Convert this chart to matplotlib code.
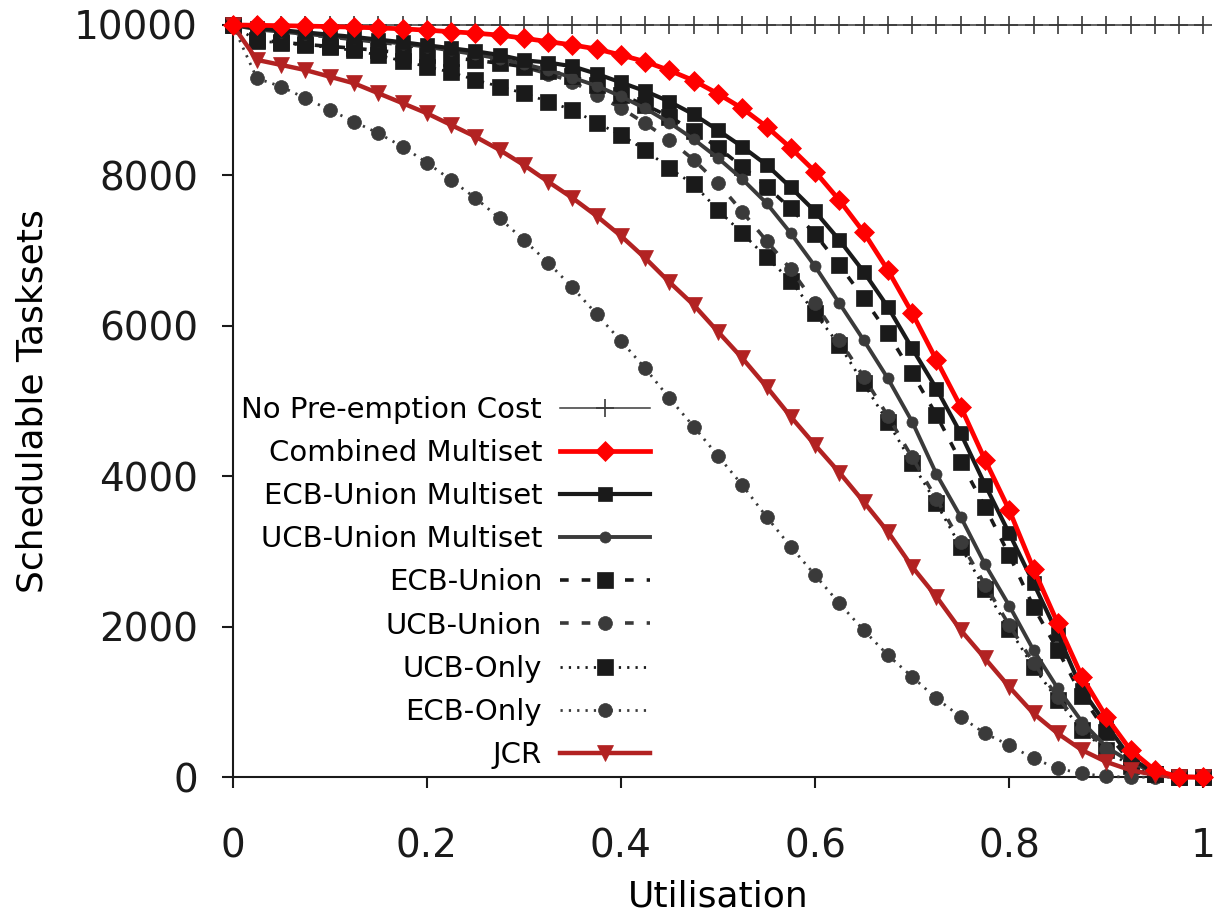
"""Schedulable tasksets vs utilisation, gnuplot-like look."""

import matplotlib
matplotlib.use("Agg")
import matplotlib.pyplot as plt
import numpy as np
from matplotlib.ticker import FormatStrFormatter

BLACK = "#1a1a1a"
GREY = "#3a3a3a"
RED = "#ff0000"
DARK_RED = "#b22222"

utilisation = np.linspace(0, 1, 41)

no_preemption = [10000] * 41
combined_multiset = [10000, 9995, 9990, 9985, 9978, 9970, 9960, 9948, 9930, 9910,
                     9890, 9865, 9823, 9778, 9734, 9680, 9600, 9512, 9395, 9260,
                     9085, 8890, 8648, 8364, 8050, 7670, 7245, 6740, 6170, 5545,
                     4925, 4220, 3550, 2770, 2045, 1335, 800, 360, 93, 5, 0]
ecb_union_multiset = [10000, 9960, 9930, 9900, 9870, 9840, 9805, 9770, 9730, 9690,
                      9650, 9600, 9530, 9500, 9450, 9350, 9235, 9120, 8980, 8810,
                      8600, 8380, 8140, 7840, 7520, 7140, 6720, 6250, 5700, 5165,
                      4570, 3890, 3240, 2580, 1900, 1160, 700, 250, 60, 5, 0]
ucb_union_multiset = [10000, 9940, 9910, 9880, 9850, 9820, 9790, 9750, 9710, 9660,
                      9610, 9550, 9480, 9400, 9300, 9190, 9050, 8890, 8700, 8480,
                      8230, 7950, 7630, 7230, 6790, 6300, 5811, 5300, 4725, 4030,
                      3461, 2830, 2280, 1689, 1180, 735, 403, 200, 60, 5, 0]
ecb_union = [10000, 9800, 9770, 9740, 9715, 9690, 9660, 9628, 9600, 9565,
             9530, 9490, 9445, 9390, 9320, 9202, 9069, 8936, 8780, 8590,
             8370, 8115, 7850, 7560, 7220, 6810, 6370, 5900, 5370, 4814,
             4193, 3594, 2952, 2265, 1689, 1080, 600, 200, 40, 0, 0]
ucb_union = [10000, 9930, 9900, 9870, 9840, 9805, 9770, 9735, 9690, 9640,
             9585, 9520, 9440, 9350, 9246, 9069, 8896, 8690, 8470, 8205,
             7895, 7517, 7130, 6750, 6300, 5811, 5323, 4800, 4250, 3700,
             3120, 2560, 2020, 1520, 1060, 660, 380, 160, 45, 0, 0]
ucb_only = [10000, 9790, 9760, 9730, 9700, 9660, 9600, 9520, 9446, 9370,
            9270, 9180, 9092, 8980, 8870, 8700, 8537, 8338, 8094, 7880,
            7540, 7230, 6910, 6600, 6165, 5745, 5235, 4720, 4175, 3640,
            3062, 2500, 1970, 1467, 1024, 625, 359, 150, 40, 0, 0]
ecb_only = [10000, 9290, 9180, 9025, 8870, 8714, 8560, 8382, 8170, 7939,
            7700, 7430, 7141, 6840, 6510, 6155, 5800, 5435, 5036, 4660,
            4270, 3883, 3461, 3062, 2686, 2310, 1955, 1622, 1334, 1047,
            802, 581, 426, 249, 116, 49, 10, 0, 0, 0, 0]
jcr = [10000, 9535, 9468, 9400, 9312, 9224, 9092, 8960, 8826, 8670,
       8515, 8338, 8138, 7916, 7700, 7460, 7195, 6900, 6580, 6277,
       5921, 5570, 5190, 4791, 4415, 4050, 3661, 3262, 2797, 2398,
       1955, 1578, 1200, 847, 581, 359, 203, 93, 30, 0, 0]

DASHED = (0, (2.4, 3.6))
DOTTED = (0, (0.8, 2.2))

# label, values, colour, linestyle, linewidth, marker, markersize, zorder
series = [
    ("No Pre-emption Cost", no_preemption, GREY, "-", 1.1, "+", 13, 3),
    ("Combined Multiset", combined_multiset, RED, "-", 3.4, "D", 10, 10),
    ("ECB-Union Multiset", ecb_union_multiset, BLACK, "-", 3.0, "s", 10.5, 8),
    ("UCB-Union Multiset", ucb_union_multiset, GREY, "-", 2.8, "o", 8, 7),
    ("ECB-Union", ecb_union, BLACK, DASHED, 2.6, "s", 11, 6),
    ("UCB-Union", ucb_union, GREY, DASHED, 2.6, "o", 10, 5),
    ("UCB-Only", ucb_only, BLACK, DOTTED, 2.0, "s", 11, 4),
    ("ECB-Only", ecb_only, GREY, DOTTED, 2.0, "o", 10, 4),
    ("JCR", jcr, DARK_RED, "-", 3.2, "v", 11, 9),
]

fig = plt.figure(figsize=(12.18, 9.23), dpi=100)
ax = fig.add_axes([0.191, 0.158, 0.797, 0.815])

for label, values, colour, ls, lw, marker, ms, z in series:
    ax.plot(utilisation, values, color=colour, linestyle=ls, linewidth=lw,
            marker=marker, markersize=ms, markeredgewidth=1.2 if marker == "+" else 0.5,
            markeredgecolor=colour, label=label, zorder=z, clip_on=False)

ax.set_xlim(0, 1)
ax.set_ylim(0, 10000)
ax.set_xticks([0, 0.2, 0.4, 0.6, 0.8, 1.0])
ax.set_yticks([0, 2000, 4000, 6000, 8000, 10000])
ax.xaxis.set_major_formatter(FormatStrFormatter("%g"))

for side in ("top", "right"):
    ax.spines[side].set_visible(False)
for side in ("left", "bottom"):
    ax.spines[side].set_linewidth(1.5)
    ax.spines[side].set_color(BLACK)

ax.tick_params(axis="both", direction="out", length=8, width=1.5,
               labelsize=28, colors=BLACK)
ax.tick_params(axis="x", pad=28)
ax.tick_params(axis="y", pad=17)

ax.set_xlabel("Utilisation", fontsize=26, labelpad=10)
ax.set_ylabel("Schedulable Tasksets", fontsize=26, labelpad=18)

ax.legend(loc="upper right", bbox_to_anchor=(0.43, 0.507), frameon=False,
          markerfirst=False, numpoints=1, fontsize=21, handlelength=3.1,
          handletextpad=0.6, labelspacing=0.52, borderpad=0, borderaxespad=0)

fig.savefig("out.png", dpi=100)
